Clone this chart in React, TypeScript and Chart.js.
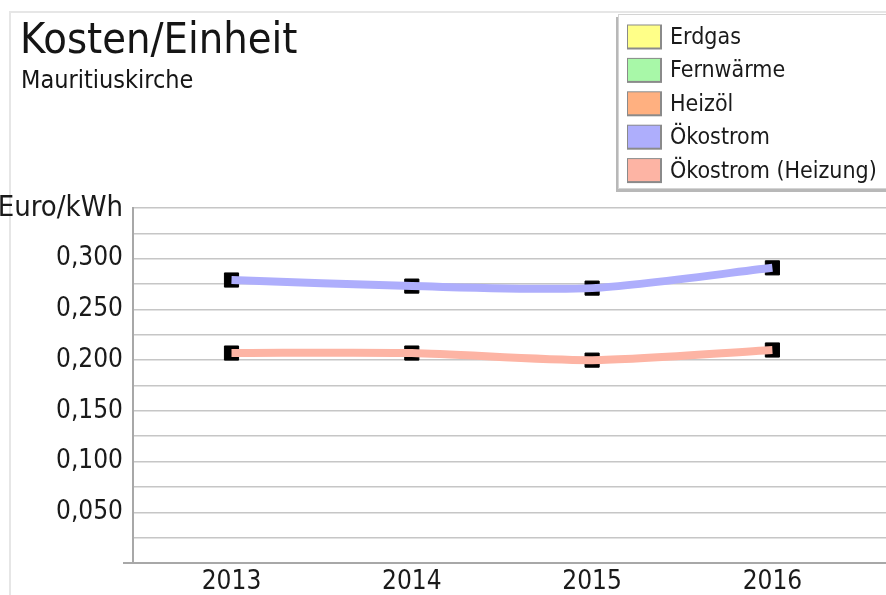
import React, { useEffect, useRef } from "react";
import { Chart, registerables } from "chart.js";

Chart.register(...registerables);

const TITLE = "Kosten/Einheit";
const SUBTITLE = "Mauritiuskirche";
const UNIT = "Euro/kWh";

const years = [2013, 2014, 2015, 2016];
const seriesLabels = ["Erdgas", "Fernwärme", "Heizöl", "Ökostrom", "Ökostrom (Heizung)"];
const seriesColors = ["#ffff88", "#a8f8a8", "#ffb080", "#aeaefc", "#fdb4a4"];
const erdgas: number[] = [];
const fernwaerme: number[] = [];
const heizoel: number[] = [];
const oekostrom = [0.279, 0.273, 0.271, 0.291];
const oekostromHeizung = [0.207, 0.207, 0.2, 0.21];

const FONT = '"DejaVu Sans Condensed", "DejaVu Sans", sans-serif';

export default function App() {
  const ref = useRef<HTMLCanvasElement | null>(null);

  useEffect(() => {
    const canvas = ref.current;
    if (!canvas) return;
    const allSeries = [erdgas, fernwaerme, heizoel, oekostrom, oekostromHeizung];
    const toXY = (vals: number[]) => vals.map((v, i) => ({ x: years[i], y: v }));

    const datasets: any[] = [];
    allSeries.forEach((vals, i) => {
      datasets.push({
        label: seriesLabels[i],
        data: toXY(vals),
        borderColor: seriesColors[i],
        backgroundColor: seriesColors[i],
        borderWidth: 8,
        pointRadius: 0,
        tension: 0.25,
        order: 1,
        showInLegend: true,
      });
    });
    allSeries.forEach((vals, i) => {
      if (!vals.length) return;
      datasets.push({
        label: seriesLabels[i] + " marker",
        data: toXY(vals),
        showLine: false,
        pointStyle: "rect",
        pointRadius: 10,
        pointBorderWidth: 1,
        pointBackgroundColor: "#000",
        pointBorderColor: "#000",
        order: 10,
        showInLegend: false,
      });
    });

    const decor = {
      id: "decor",
      beforeDraw(chart: any) {
        const ctx = chart.ctx;
        ctx.save();
        ctx.fillStyle = "#fff";
        ctx.fillRect(0, 0, chart.width, chart.height);
        ctx.strokeStyle = "#e6e6e6";
        ctx.lineWidth = 2;
        ctx.beginPath();
        ctx.moveTo(10, chart.height);
        ctx.lineTo(10, 12);
        ctx.lineTo(chart.width, 12);
        ctx.stroke();
        ctx.restore();
      },
      afterDraw(chart: any) {
        const ctx = chart.ctx;
        const area = chart.chartArea;
        ctx.save();
        // x-axis extension to the left
        ctx.strokeStyle = "#a8a8a8";
        ctx.lineWidth = 2;
        ctx.beginPath();
        ctx.moveTo(area.left - 10, area.bottom);
        ctx.lineTo(area.left, area.bottom);
        ctx.stroke();

        // titles
        ctx.fillStyle = "#151515";
        ctx.textBaseline = "alphabetic";
        ctx.textAlign = "left";
        ctx.font = `43px ${FONT}`;
        ctx.fillText(TITLE, 20, 53);
        ctx.font = `25px ${FONT}`;
        ctx.fillText(SUBTITLE, 21, 88);

        // legend box
        const bx = 617, by = 14, bw = 300, bh = 175;
        ctx.fillStyle = "#b8b8b8";
        ctx.fillRect(bx - 1, by + 3, bw, bh);
        ctx.fillStyle = "#fff";
        ctx.fillRect(bx + 1, by, bw, bh);
        ctx.strokeStyle = "#d4d4d4";
        ctx.lineWidth = 1;
        ctx.strokeRect(bx + 1.5, by + 0.5, bw, bh - 1);

        const items = chart.data.datasets.filter((d: any) => d.showInLegend);
        ctx.font = `23px ${FONT}`;
        ctx.textBaseline = "middle";
        items.forEach((d: any, i: number) => {
          const cy = 37 + i * 33.4;
          ctx.fillStyle = "#8a8a8a";
          ctx.fillRect(627, cy - 12.5, 35, 25);
          ctx.fillStyle = d.backgroundColor;
          ctx.fillRect(628, cy - 11.5, 32, 22);
          ctx.fillStyle = "#1a1a1a";
          ctx.fillText(d.label, 670, cy + 1);
        });
        ctx.restore();
      },
    };

    const chart = new Chart(canvas, {
      type: "line",
      data: { datasets },
      plugins: [decor],
      options: {
        animation: false,
        responsive: false,
        maintainAspectRatio: false,
        layout: { autoPadding: false, padding: { top: 208, right: 0, left: 0, bottom: 0 } },
        plugins: {
          legend: { display: false },
          title: { display: false },
          tooltip: { enabled: false },
        },
        scales: {
          x: {
            type: "linear",
            min: 2012.4537,
            max: 2016.63,
            afterBuildTicks: (scale: any) => {
              scale.ticks = years.map((v) => ({ value: v }));
            },
            afterFit: (scale: any) => {
              scale.height = 32;
            },
            grid: { display: false, drawTicks: false },
            border: { display: true, color: "#a8a8a8", width: 2 },
            ticks: {
              padding: 4,
              color: "#1a1a1a",
              font: { family: FONT, size: 26 },
              maxRotation: 0,
              callback: (v: any) => String(v),
            },
          },
          y: {
            min: 0,
            max: 0.35,
            afterFit: (scale: any) => {
              scale.width = 133;
            },
            ticks: {
              stepSize: 0.025,
              padding: 10,
              color: "#1a1a1a",
              font: (c: any) => {
                const v = c && c.tick ? c.tick.value : 0;
                const big = Math.round(v * 1000) === 350;
                return { family: FONT, size: big ? 29 : 26 };
              },
              autoSkip: false,
              callback: (v: any) => {
                const m = Math.round(v * 1000);
                if (m === 350) return UNIT;
                if (m === 0) return "";
                if (m % 50 === 0) return (m / 1000).toFixed(3).replace(".", ",");
                return "";
              },
            },
            grid: { color: "#c6c6c6", lineWidth: 1.5, drawTicks: false },
            border: { display: true, color: "#a8a8a8", width: 2 },
          },
        },
      },
    });
    return () => chart.destroy();
  }, []);

  return (
    <div style={{ position: "fixed", left: 0, top: 0, width: 886, height: 595, background: "#fff" }}>
      <canvas ref={ref} width={886} height={595} style={{ display: "block", width: 886, height: 595 }} />
    </div>
  );
}
